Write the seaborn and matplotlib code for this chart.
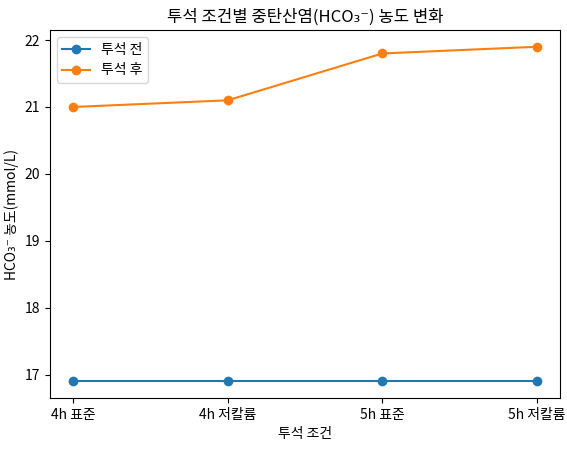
import matplotlib
matplotlib.use("Agg")
import matplotlib.pyplot as plt
import seaborn as sns
import pandas as pd

plt.rcParams['font.family'] = ['Noto Sans CJK KR', 'DejaVu Sans']
plt.rcParams['axes.unicode_minus'] = False

conditions = ["4h 표준", "4h 저칼륨", "5h 표준", "5h 저칼륨"]
before = [16.9, 16.9, 16.9, 16.9]
after = [21.0, 21.1, 21.8, 21.9]

df = pd.DataFrame({
    "조건": conditions * 2,
    "값": before + after,
    "시점": ["투석 전"] * 4 + ["투석 후"] * 4,
})

fig, ax = plt.subplots(figsize=(5.67, 4.55), dpi=100)
sns.lineplot(data=df, x="조건", y="값", hue="시점", marker="o", markersize=7,
             markeredgewidth=0, palette=["#1f77b4", "#ff7f0e"], ax=ax, sort=False)
ax.set_title("투석 조건별 중탄산염(HCO₃⁻) 농도 변화")
ax.set_xlabel("투석 조건")
ax.set_ylabel("HCO₃⁻ 농도(mmol/L)")
ax.legend(title=None, loc="upper left")
fig.subplots_adjust(left=0.088, right=0.988, top=0.934, bottom=0.125)
fig.savefig("out.png", dpi=100)
